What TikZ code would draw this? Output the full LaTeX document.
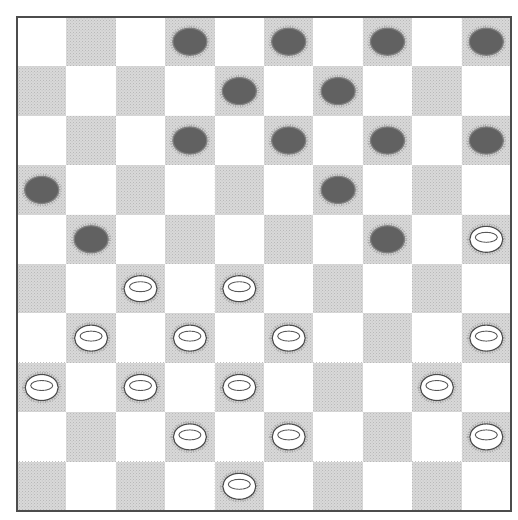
\documentclass[tikz,border=0pt]{standalone}
\usetikzlibrary{shapes.geometric,patterns}
\tikzset{
  lightsq/.style={draw=none,fill=white,minimum size=49.4pt,inner sep=0pt},
  darksq/.style={draw=none,fill=gray!30,minimum size=49.4pt,inner sep=0pt,
    postaction={pattern=crosshatch dots,pattern color=gray!60}},
  blackman/.style={ellipse,minimum width=34pt,minimum height=27pt,inner sep=0pt,
    fill=black!62,draw=black!50,line width=1.2pt,
    preaction={draw=gray!65,line width=6pt,dash pattern=on 0.8pt off 1.4pt}},
  whiteman/.style={ellipse,minimum width=33pt,minimum height=26pt,inner sep=0pt,
    fill=white,draw=black!70,line width=1.1pt,
    preaction={draw=gray!65,line width=6pt,dash pattern=on 0.8pt off 1.4pt},
    path picture={\draw[black!65,line width=0.9pt] ([yshift=2pt]path picture bounding box.center) ellipse (11pt and 5pt);}},
  frame/.style={draw=black!70,line width=2.6pt}
}
\begin{document}
\begin{tikzpicture}[x=1pt,y=-1pt]
\useasboundingbox (0,0) rectangle (518,520);
\fill[white] (0,0) rectangle (518,520);
\foreach \r in {0,...,9}{
  \foreach \c in {0,...,9}{
    \pgfmathsetmacro\cx{17+49.4*(\c+0.5)}
    \pgfmathsetmacro\cy{17+49.4*(\r+0.5)}
    \pgfmathtruncatemacro\myparity{mod(\r+\c,2)}
    \ifnum\myparity=1
      \node[darksq] (sq-\r-\c) at (\cx,\cy) {};
    \else
      \node[lightsq] (sq-\r-\c) at (\cx,\cy) {};
    \fi
  }
}
\node[frame,minimum size=494pt,inner sep=0pt] (board) at (264,264) {};
\foreach \r/\c in {0/3,0/5,0/7,0/9,1/4,1/6,2/3,2/5,2/7,2/9,3/0,3/6,4/1,4/7}{
  \node[blackman] (b-\r-\c) at (sq-\r-\c) {};
}
\foreach \r/\c in {4/9,5/2,5/4,6/1,6/3,6/5,6/9,7/0,7/2,7/4,7/8,8/3,8/5,8/9,9/4}{
  \node[whiteman] (w-\r-\c) at (sq-\r-\c) {};
}
\end{tikzpicture}
\end{document}
